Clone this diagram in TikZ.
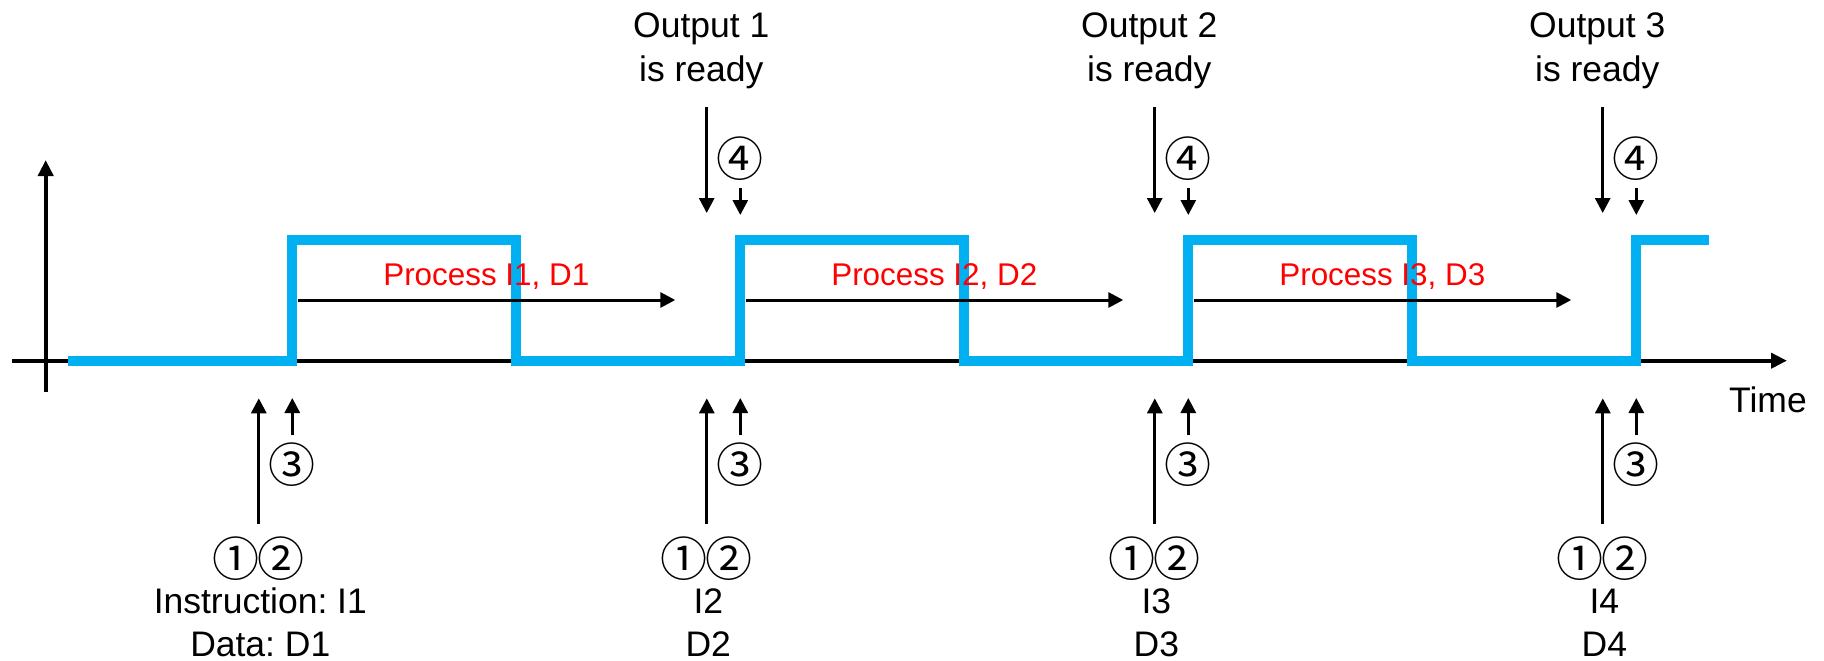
\documentclass[tikz,border=0pt]{standalone}
\usepackage{fontspec}
\setmainfont{Liberation Sans}
\newfontfamily\circfont{Noto Sans CJK JP}
\usetikzlibrary{arrows.meta}
\definecolor{sigblue}{RGB}{0,176,240}
\definecolor{procred}{RGB}{255,0,0}
\frenchspacing
\begin{document}
\begin{tikzpicture}[x=1pt,y=-1pt,
  lbl/.style={font=\fontsize{35.5}{42}\selectfont, inner sep=0, anchor=base},
  proc/.style={font=\fontsize{31.4}{38}\selectfont, text=procred, inner sep=0, anchor=base},
  circ/.style={font={\circfont\fontsize{47}{50}\selectfont}, inner sep=0},
  axisline/.style={line width=4pt, -{Triangle[length=16pt,width=15pt]}},
  arr/.style={line width=3pt, -{Triangle[length=15pt,width=15pt]}},
  sig/.style={line width=10pt, draw=sigblue, line join=miter},
]
\useasboundingbox (0,0) rectangle (1824,661);
% axes
\coordinate (yb) at (45.7,392);
\coordinate (yt) at (45.7,160);
\coordinate (xl) at (12,360.7);
\coordinate (xr) at (1787,360.7);
\draw[axisline] (yb) -- (yt);
\draw[axisline] (xl) -- (xr);
\node[lbl, anchor=base west] (time) at (1729,412) {Time};
% signal
\draw[sig] (68,360.7) -- (292.3,360.7) -- (292.3,240) -- (516.3,240) -- (516.3,360.7)
  -- (740.3,360.7) -- (740.3,240) -- (964.3,240) -- (964.3,360.7)
  -- (1188.3,360.7) -- (1188.3,240) -- (1412.3,240) -- (1412.3,360.7)
  -- (1636.3,360.7) -- (1636.3,240) -- (1709,240);
% process arrows
\foreach \k/\n in {0/1,1/2,2/3}{
  \pgfmathsetmacro{\R}{292.3+448*\k}
  \coordinate (ps\n) at (\R+5.5,300);
  \coordinate (pe\n) at (\R+383,300);
  \draw[arr] (ps\n) -- (pe\n);
  \node[proc] (pl\n) at (\R+194,285) {Process I\n, D\n};
}
% outputs
\foreach \n in {1,2,3}{
  \pgfmathsetmacro{\R}{292.3+448*\n}
  \node[lbl] (oa\n) at (\R-39,37.7) {Output \n};
  \node[lbl] (ob\n) at (\R-39,81.7) {is ready};
  \coordinate (ls\n) at (\R-33.6,107);
  \coordinate (le\n) at (\R-33.6,213);
  \draw[arr] (ls\n) -- (le\n);
  \node[circ] (cf\n) at (\R,159) {④};
  \coordinate (ss\n) at (\R,188);
  \coordinate (se\n) at (\R,215);
  \draw[arr] (ss\n) -- (se\n);
}
% inputs
\foreach \k/\n/\ta/\tb in {0/1/{Instruction: I1}/{Data: D1},1/2/I2/D2,2/3/I3/D3,3/4/I4/D4}{
  \pgfmathsetmacro{\R}{292.3+448*\k}
  \coordinate (ib\n) at (\R-33.5,524);
  \coordinate (it\n) at (\R-33.5,398.3);
  \draw[arr] (ib\n) -- (it\n);
  \coordinate (jb\n) at (\R,435);
  \coordinate (jt\n) at (\R,398);
  \draw[arr] (jb\n) -- (jt\n);
  \node[circ] (ct\n) at (\R,465) {③};
  \node[circ] (co\n) at (\R-56,558.3) {①};
  \node[circ] (cw\n) at (\R-11,558.3) {②};
  \node[lbl] (ia\n) at (\R-32,613) {\ta};
  \node[lbl] (ic\n) at (\R-32,656) {\tb};
}
\end{tikzpicture}
\end{document}
